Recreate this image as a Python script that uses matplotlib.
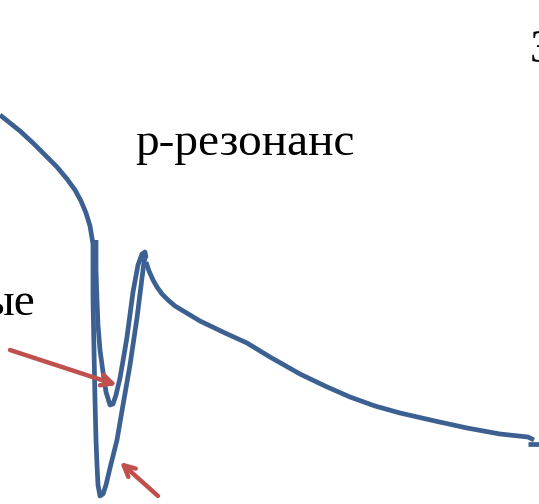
import matplotlib
matplotlib.use("Agg")
import matplotlib.pyplot as plt

plt.rcParams["font.family"] = "serif"
plt.rcParams["font.serif"] = ["Liberation Serif", "DejaVu Serif"]

# Curve strokes (picture coordinates: x right, y down)
stroke_a_x = [0, 10, 20, 33, 45, 57, 67, 75, 81, 86, 90, 92, 94, 95]
stroke_a_y = [115, 123, 131, 143, 155, 167, 179, 190, 201, 213, 226, 238, 250, 262]

small_v_x = [96, 96, 97, 98, 100, 103, 106, 110, 113, 116, 120, 124, 127, 133, 138, 142, 145, 146]
small_v_y = [240, 270, 300, 325, 350, 372, 392, 405, 404, 395, 378, 355, 337, 292, 265, 254, 252, 258]

big_v_x = [93, 93, 94, 95, 96, 97, 98, 100, 103, 106, 110, 117, 123, 130, 137, 142, 144, 146]
big_v_y = [245, 300, 350, 400, 440, 465, 485, 496, 494, 485, 468, 440, 405, 365, 318, 278, 262, 255]

tail_x = [146, 149, 153, 157, 162, 168, 175, 185, 200, 225, 247, 270, 300, 325, 350, 375, 400, 435, 467, 500, 528, 534]
tail_y = [262, 271, 280, 287, 294, 300, 306, 312, 321, 333, 343, 357, 374, 386, 397, 406, 413, 421, 428, 434, 437, 440]

end_x = [528, 539]
end_y = [444, 444]

# Red arrows: (tail, tip)
arrow_tails = [(10, 350), (158, 496)]
arrow_tips = [(117, 385), (120, 462)]

labels = ["р-резонанс", "ые", "З"]

blue = "#3B6091"
red = "#C0504D"

fig = plt.figure(figsize=(5.39, 5.04), dpi=100)
ax = fig.add_axes([0, 0, 1, 1])
ax.set_xlim(0, 539)
ax.set_ylim(504, 0)
ax.axis("off")

lw = 3.4
for xs, ys in [(stroke_a_x, stroke_a_y), (small_v_x, small_v_y), (big_v_x, big_v_y),
               (tail_x, tail_y), (end_x, end_y)]:
    ax.plot(xs, ys, color=blue, lw=lw, solid_capstyle="butt", solid_joinstyle="round")

for (tx, ty), (hx, hy) in zip(arrow_tails, arrow_tips):
    ax.annotate("", xy=(hx, hy), xytext=(tx, ty),
                arrowprops=dict(arrowstyle="->,head_length=0.8,head_width=0.4",
                                color=red, lw=3.2, shrinkA=0, shrinkB=0))

ax.text(135, 155, labels[0], fontsize=34, color="black", ha="left", va="baseline")
ax.text(35, 315, labels[1], fontsize=34, color="black", ha="right", va="baseline")
ax.text(530, 62, labels[2], fontsize=34, color="black", ha="left", va="baseline")

fig.savefig("out.png", dpi=100)
